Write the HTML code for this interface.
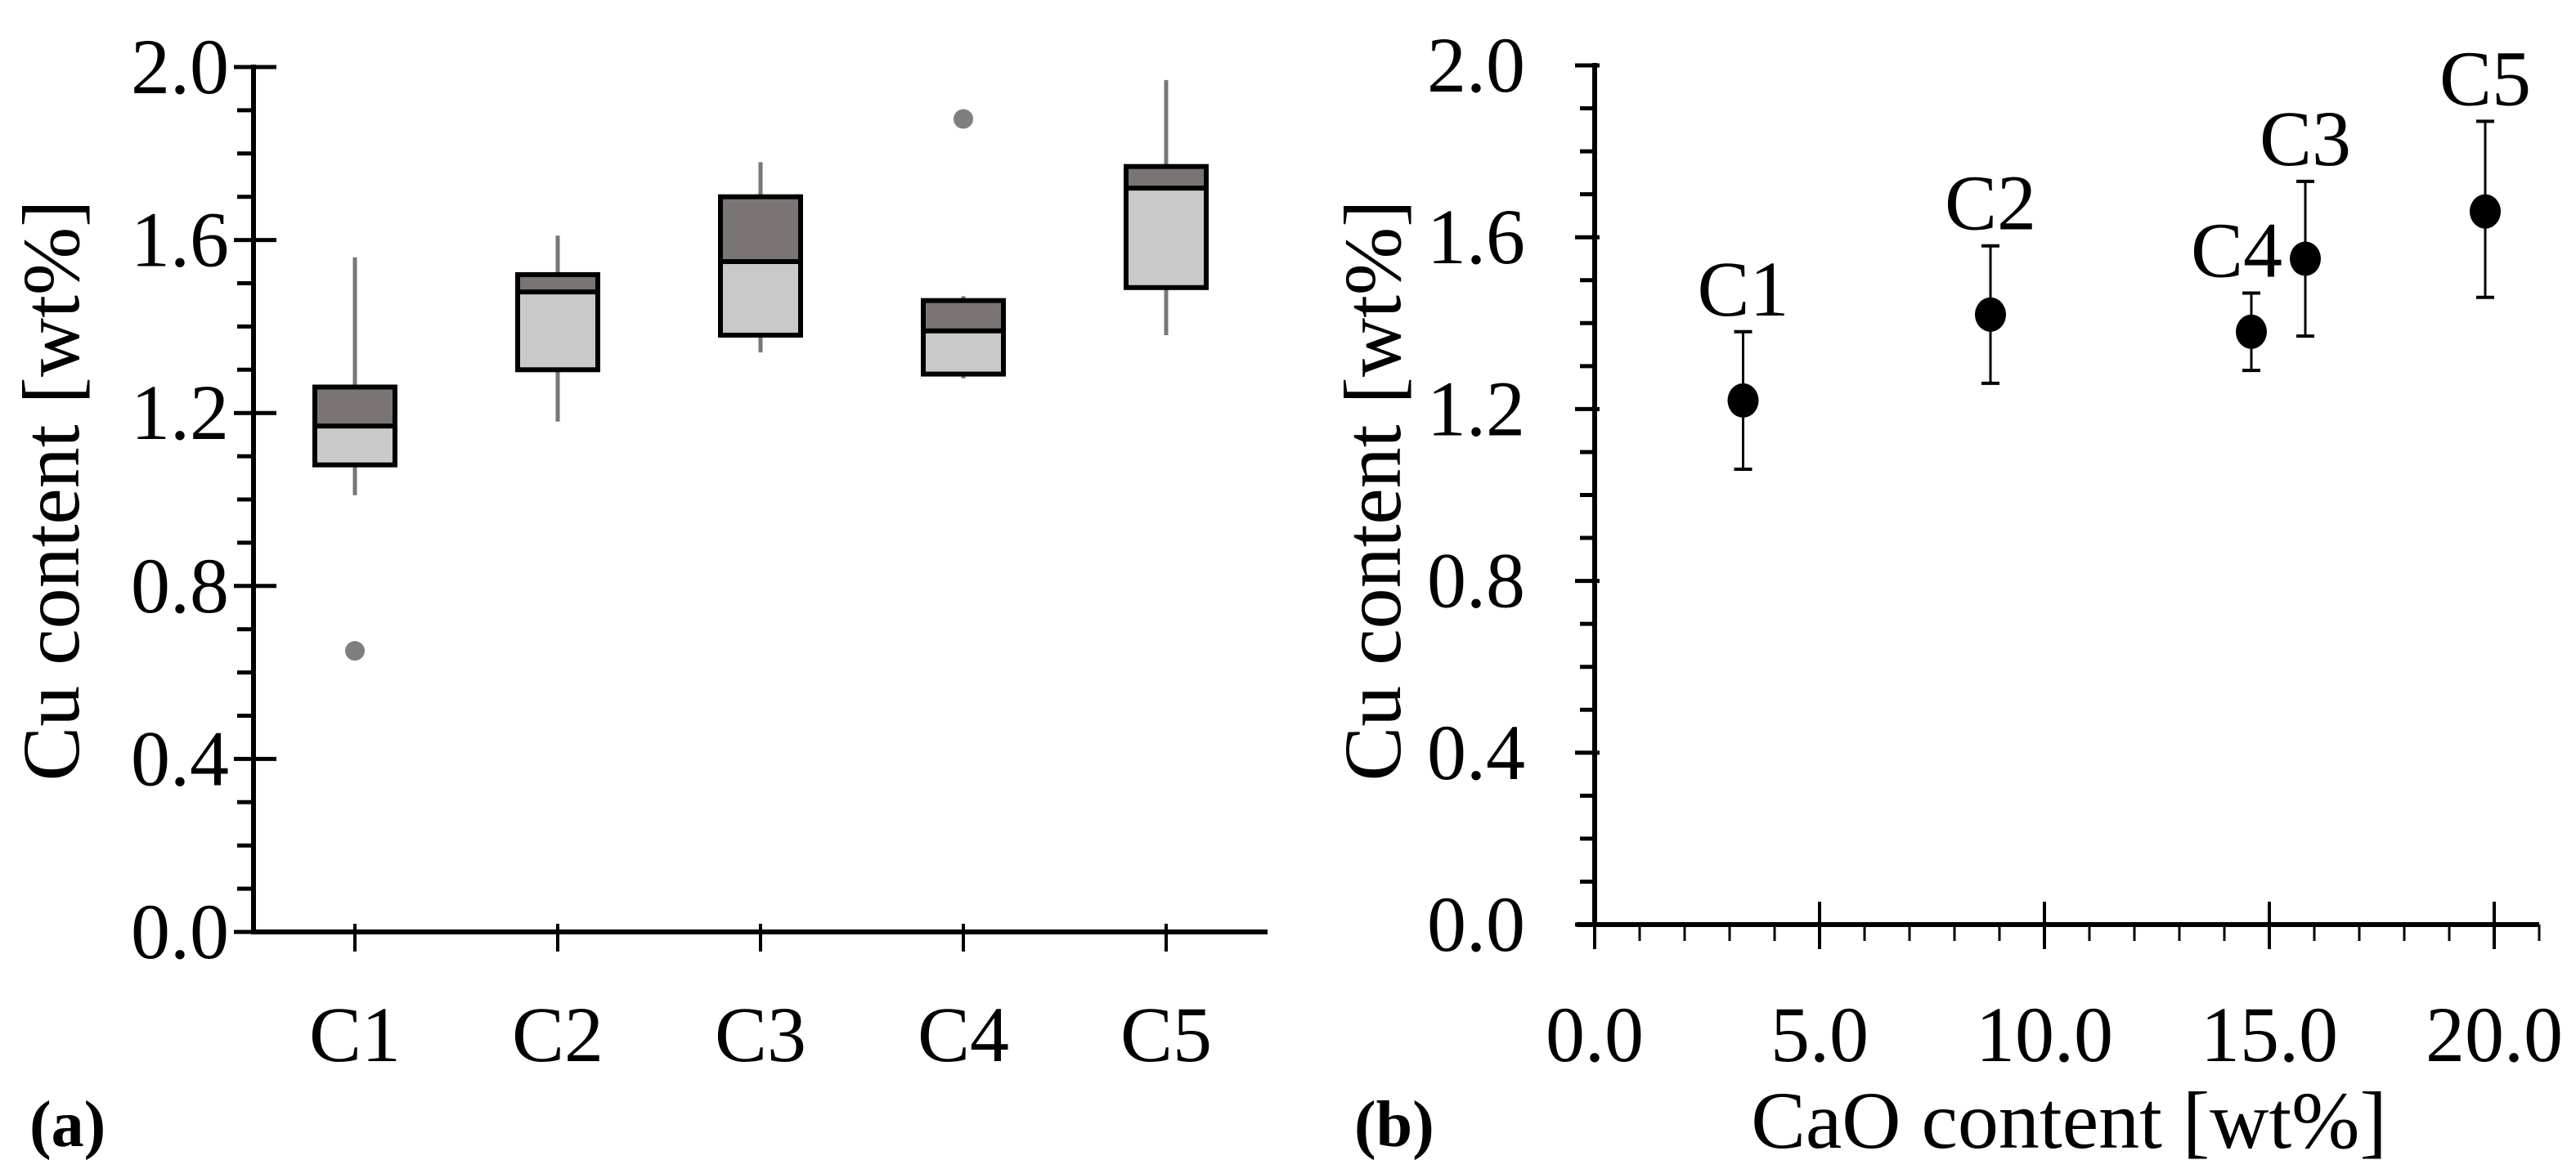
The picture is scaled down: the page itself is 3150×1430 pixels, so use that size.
<!DOCTYPE html>
<html><head><meta charset="utf-8"><style>
html,body{margin:0;padding:0;background:#fff;}
svg{display:block;}
text{font-family:"Liberation Serif",serif;fill:#000;}
</style></head><body>
<svg id="chart" width="3150" height="1430" viewBox="0 0 3150 1430" xmlns="http://www.w3.org/2000/svg"></svg>
<script>
// Panel (a) box plot data
const cats = ["C1","C2","C3","C4","C5"];
const whiskerLow = [1.01,1.18,1.34,1.28,1.38];
const q1 = [1.08,1.30,1.38,1.29,1.49];
const median = [1.17,1.48,1.55,1.39,1.72];
const q3 = [1.26,1.52,1.70,1.46,1.77];
const whiskerHigh = [1.56,1.61,1.78,1.47,1.97];
const outliers = [[0,0.65],[3,1.88]];
const yTicks = ["0.0","0.4","0.8","1.2","1.6","2.0"];
// Panel (b) scatter data
const pLabels = ["C1","C2","C4","C3","C5"];
const cao = [3.3,8.8,14.6,15.8,19.8];
const cu = [1.22,1.42,1.38,1.55,1.66];
const errLow = [1.06,1.26,1.29,1.37,1.46];
const errHigh = [1.38,1.58,1.47,1.73,1.87];
const xTicks = ["0.0","5.0","10.0","15.0","20.0"];
const labelDx = [0,0,-18,0,0];

const NS="http://www.w3.org/2000/svg";
const svg=document.getElementById('chart');
function mk(tag,attrs,parent,txt){const e=document.createElementNS(NS,tag);for(const k in attrs)e.setAttribute(k,attrs[k]);if(txt!==undefined)e.textContent=txt;(parent||svg).appendChild(e);return e;}

// ---------- Panel a ----------
const aX0=310,aX1=1550,aY0=1140,aY1=82;
const ya=v=>aY0-(v/2)*(aY0-aY1);
const band=(aX1-aX0)/cats.length;
const xa=i=>aX0+band*(i+0.5);
const gA=mk('g',{});


let l=mk('line',{x1:aX0,y1:aY1-3,x2:aX0,y2:aY0+3,stroke:'#000','stroke-width':6},gA);

l=mk('line',{x1:aX0-3,y1:aY0,x2:aX1,y2:aY0,stroke:'#000','stroke-width':6},gA);

for(let k=0;k<=20;k++){const v=k/10;const y=ya(v);
 if(k%4===0){mk('line',{x1:aX0-24,y1:y,x2:aX0+28,y2:y,stroke:'#000','stroke-width':5},gA);
  const t=mk('text',{x:280,y:y+32,'font-size':96,'text-anchor':'end'},gA,yTicks[k/4]);
  }
 else mk('line',{x1:aX0-20,y1:y,x2:aX0,y2:y,stroke:'#000','stroke-width':5},gA);}
cats.forEach((c,i)=>{const x=xa(i);
 mk('line',{x1:x,y1:aY0-10,x2:x,y2:aY0+24,stroke:'#000','stroke-width':4},gA);
 const t=mk('text',{x:x,y:1298,'font-size':96,'text-anchor':'middle'},gA,c);
 
 const g=mk('g',{},gA);
 
 
 const w=98;
 mk('line',{x1:x,y1:ya(whiskerLow[i]),x2:x,y2:ya(whiskerHigh[i]),stroke:'#777','stroke-width':5},g);
 mk('rect',{x:x-w/2,y:ya(q3[i]),width:w,height:ya(median[i])-ya(q3[i]),fill:'#7a7472'},g);
 mk('rect',{x:x-w/2,y:ya(median[i]),width:w,height:ya(q1[i])-ya(median[i]),fill:'#c9c9c9'},g);
 mk('rect',{x:x-w/2,y:ya(q3[i]),width:w,height:ya(q1[i])-ya(q3[i]),fill:'none',stroke:'#000','stroke-width':6},g);
 mk('line',{x1:x-w/2,y1:ya(median[i]),x2:x+w/2,y2:ya(median[i]),stroke:'#000','stroke-width':6},g);
});
outliers.forEach(o=>{const c=mk('circle',{cx:xa(o[0]),cy:ya(o[1]),r:12,fill:'#7f7f7f'},gA);
 });
let t=mk('text',{x:0,y:0,'font-size':100,'text-anchor':'middle',transform:'translate(96,600) rotate(-90)'},gA,'Cu content [wt%]');

t=mk('text',{x:36,y:1402,'font-size':80,'font-weight':'bold'},gA,'(a)');


// ---------- Panel b ----------
const bX0=1950,bXmax=3050,bY0=1131,bY1=80;
const xb=v=>bX0+(v/20)*(bXmax-bX0);
const yb=v=>bY0-(v/2)*(bY0-bY1);
const gB=mk('g',{});


l=mk('line',{x1:bX0,y1:bY1-3,x2:bX0,y2:bY0+3,stroke:'#000','stroke-width':6},gB);

l=mk('line',{x1:bX0-22,y1:bY0,x2:xb(21),y2:bY0,stroke:'#000','stroke-width':6},gB);

for(let k=0;k<=20;k++){const v=k/10;const y=yb(v);
 if(k%4===0){mk('line',{x1:bX0-24,y1:y,x2:bX0+6,y2:y,stroke:'#000','stroke-width':5},gB);
  const tt=mk('text',{x:1865,y:y+32,'font-size':96,'text-anchor':'end'},gB,yTicks[k/4]);
  }
 else mk('line',{x1:bX0-18,y1:y,x2:bX0,y2:y,stroke:'#000','stroke-width':5},gB);}
for(let k=0;k<=21;k++){const x=xb(k);
 if(k%5===0) mk('line',{x1:x,y1:bY0-28,x2:x,y2:bY0+30,stroke:'#000','stroke-width':4},gB);
 else mk('line',{x1:x,y1:bY0,x2:x,y2:bY0+20,stroke:'#000','stroke-width':3},gB);}
xTicks.forEach((s,i)=>{const tt=mk('text',{x:xb(i*5),y:1298,'font-size':96,'text-anchor':'middle'},gB,s);
 });
cao.forEach((v,i)=>{const x=xb(v);
 const g=mk('g',{},gB);
 
 
 mk('line',{x1:x,y1:yb(errLow[i]),x2:x,y2:yb(errHigh[i]),stroke:'#000','stroke-width':3},g);
 mk('line',{x1:x-11,y1:yb(errLow[i]),x2:x+11,y2:yb(errLow[i]),stroke:'#000','stroke-width':4},g);
 mk('line',{x1:x-11,y1:yb(errHigh[i]),x2:x+11,y2:yb(errHigh[i]),stroke:'#000','stroke-width':4},g);
 mk('ellipse',{cx:x,cy:yb(cu[i]),rx:19,ry:21,fill:'#000'},g);
 const lt=mk('text',{x:x+labelDx[i],y:yb(errHigh[i])-20,'font-size':96,'text-anchor':'middle'},g,pLabels[i]);
 
});
t=mk('text',{x:0,y:0,'font-size':100,'text-anchor':'middle',transform:'translate(1712,600) rotate(-90)'},gB,'Cu content [wt%]');

t=mk('text',{x:2530,y:1404,'font-size':100,'text-anchor':'middle'},gB,'CaO content [wt%]');

t=mk('text',{x:1656,y:1402,'font-size':80,'font-weight':'bold'},gB,'(b)');

</script>
</body></html>
